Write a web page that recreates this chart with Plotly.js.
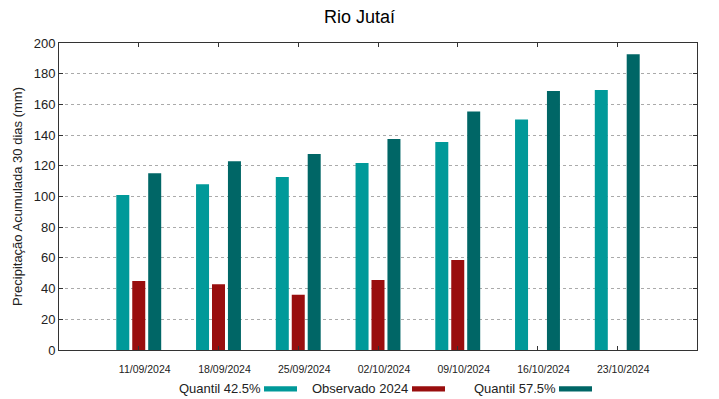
<!DOCTYPE html>
<html><head><meta charset="utf-8">
<script src="https://cdn.plot.ly/plotly-3.0.1.min.js"></script>
<style>html,body{margin:0;padding:0;background:#fff}#c{width:719px;height:399px}</style>
</head><body><div id="c"></div>
<script>
const categories = ["11/09/2024","18/09/2024","25/09/2024","02/10/2024","09/10/2024","16/10/2024","23/10/2024"];
const q425 = [101, 108, 112.7, 121.8, 135.5, 150.1, 169.4];
const obs2024 = [45, 42.8, 36, 45.6, 58.6, null, null];
const q575 = [115.1, 122.9, 127.7, 137.5, 155.3, 168.7, 192.6];
const seriesNames = ["Quantil 42.5%", "Observado 2024", "Quantil 57.5%"];
const colors = ["#009999", "#990e0e", "#006666"];

const font = "Liberation Sans, Arial, sans-serif";
const traces = [q425, obs2024, q575].map((v, i) => ({
  type: "bar", x: categories, y: v, name: seriesNames[i],
  marker: {color: colors[i], line: {width: 0}}, showlegend: false
}));

// legend layout (pixel positions converted to paper coords)
const legendX = [[177, 264], [310, 412], [472, 559]];
const px = p => (p - 59) / 638, py = p => (350 - p) / 307;
const annotations = [], shapes = [];
seriesNames.forEach((n, i) => {
  annotations.push({xref: "paper", yref: "paper", x: px(legendX[i][0]), y: py(388),
    xanchor: "left", yanchor: "middle", text: n, showarrow: false,
    font: {family: font, size: 13, color: "#222"}});
  shapes.push({type: "rect", xref: "paper", yref: "paper",
    x0: px(legendX[i][1]), x1: px(legendX[i][1] + 33),
    y0: py(386.2), y1: py(391.4), fillcolor: colors[i], line: {width: 0}});
});

const layout = {
  width: 719, height: 399,
  margin: {l: 59, r: 22, t: 43, b: 49},
  paper_bgcolor: "#fff", plot_bgcolor: "#fff",
  title: {text: "Rio Jutaí", x: 0.5, xanchor: "center", y: 0.958, yanchor: "middle",
    font: {family: font, size: 18, color: "#000"}},
  barmode: "group", bargap: 0.4, bargroupgap: 0.185,
  xaxis: {type: "category", range: [-1, 7], showgrid: false, zeroline: false,
    showline: true, linecolor: "#333", linewidth: 1, mirror: "ticks",
    ticks: "inside", ticklen: 4, tickcolor: "#333",
    tickfont: {family: font, size: 10.5, color: "#222"}, ticklabelstandoff: 9, ticklabelshift: 6},
  yaxis: {range: [0, 200], dtick: 20, showgrid: true, gridcolor: "#aaa", griddash: "dot", gridwidth: 1,
    zeroline: false, showline: true, linecolor: "#333", linewidth: 1, mirror: "ticks",
    ticks: "inside", ticklen: 4, tickcolor: "#333",
    tickfont: {family: font, size: 13, color: "#222"},
    title: {text: "Precipitação Acumulada 30 dias (mm)", standoff: 8,
      font: {family: font, size: 13, color: "#222"}}},
  annotations: annotations, shapes: shapes
};
Plotly.newPlot("c", traces, layout, {displayModeBar: false, staticPlot: true});
</script></body></html>
